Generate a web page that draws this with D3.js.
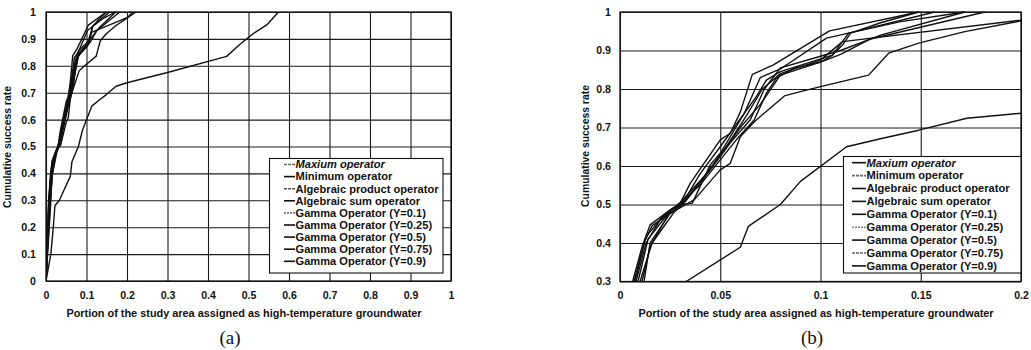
<!DOCTYPE html>
<html><head><meta charset="utf-8">
<script src="https://cdn.jsdelivr.net/npm/d3@7"></script>
<style>body{margin:0;background:#fff}svg{display:block}</style>
</head><body>
<svg id="c" width="1031" height="350"></svg>
<script>
// ---------- DATA ----------
const seriesNames = ["Maxium operator","Minimum operator","Algebraic product operator","Algebraic sum operator",
  "Gamma Operator (Y=0.1)","Gamma Operator (Y=0.25)","Gamma Operator (Y=0.5)","Gamma Operator (Y=0.75)","Gamma Operator (Y=0.9)"];

// each series: [portion of area, cumulative success rate]
const maxiumOp = [[0,0],[0.002,0.1],[0.004,0.2],[0.0063,0.3],[0.011,0.39],[0.015,0.447],[0.025,0.486],[0.03,0.503],[0.035,0.555],[0.05,0.668],[0.055,0.685],[0.06,0.74],[0.066,0.838],[0.0763,0.862],[0.1045,0.951],[0.149,1.0]];
const minimumOp = [[0,0],[0.012,0.1],[0.018,0.2],[0.022,0.28],[0.033,0.3],[0.06,0.389],[0.064,0.443],[0.08,0.5],[0.09,0.56],[0.113,0.65],[0.131,0.672],[0.149,0.693],[0.173,0.724],[0.2,0.737],[0.3,0.775],[0.446,0.835],[0.479,0.88],[0.512,0.92],[0.545,0.952],[0.574,1.0]];
const algProductOp = [[0,0],[0.004,0.1],[0.008,0.2],[0.012,0.3],[0.015,0.4],[0.025,0.477],[0.037,0.512],[0.05,0.59],[0.055,0.607],[0.06,0.676],[0.067,0.715],[0.082,0.782],[0.09,0.793],[0.1,0.806],[0.124,0.836],[0.134,0.893],[0.149,0.919],[0.172,0.949],[0.2,0.977],[0.222,1.0]];
const algSumOp = [[0,0],[0.002,0.1],[0.005,0.2],[0.0075,0.3],[0.013,0.417],[0.022,0.473],[0.03,0.5],[0.036,0.503],[0.045,0.603],[0.05,0.633],[0.062,0.737],[0.068,0.78],[0.073,0.823],[0.08,0.845],[0.106,0.888],[0.111,0.914],[0.115,0.945],[0.13,0.972],[0.149,1.0]];
const gamma01 = [[0,0],[0.003,0.1],[0.007,0.2],[0.011,0.3],[0.015,0.39],[0.025,0.482],[0.03,0.503],[0.04,0.551],[0.05,0.616],[0.058,0.668],[0.067,0.72],[0.073,0.789],[0.078,0.828],[0.087,0.854],[0.1,0.87],[0.106,0.888],[0.114,0.945],[0.14,0.975],[0.172,1.0]];
const gamma025 = [[0,0],[0.002,0.1],[0.0045,0.2],[0.007,0.3],[0.012,0.4],[0.016,0.445],[0.026,0.48],[0.032,0.51],[0.04,0.58],[0.05,0.65],[0.062,0.737],[0.07,0.83],[0.08,0.852],[0.103,0.932],[0.114,0.945],[0.157,1.0]];
const gamma05 = [[0,0],[0.003,0.1],[0.006,0.2],[0.01,0.3],[0.016,0.4],[0.027,0.48],[0.033,0.51],[0.042,0.57],[0.052,0.64],[0.06,0.7],[0.07,0.76],[0.08,0.836],[0.1,0.87],[0.11,0.89],[0.125,0.93],[0.182,1.0]];
const gamma075 = [[0,0],[0.0025,0.1],[0.0055,0.2],[0.009,0.3],[0.014,0.41],[0.023,0.47],[0.031,0.5],[0.043,0.58],[0.053,0.65],[0.063,0.73],[0.071,0.8],[0.08,0.84],[0.1,0.875],[0.111,0.923],[0.2,0.979],[0.215,1.0]];
const gamma09 = [[0,0],[0.0025,0.1],[0.005,0.2],[0.008,0.3],[0.013,0.4],[0.02,0.46],[0.03,0.505],[0.045,0.59],[0.055,0.66],[0.065,0.72],[0.072,0.8],[0.08,0.855],[0.1,0.885],[0.11,0.9],[0.13,0.94],[0.172,1.0]];

const allSeries = [maxiumOp, minimumOp, algProductOp, algSumOp, gamma01, gamma025, gamma05, gamma075, gamma09];

const xTicksA = [0,0.1,0.2,0.3,0.4,0.5,0.6,0.7,0.8,0.9,1];
const yTicksA = [0,0.1,0.2,0.3,0.4,0.5,0.6,0.7,0.8,0.9,1];
const xTicksB = [0,0.05,0.1,0.15,0.2];
const yTicksB = [0.3,0.4,0.5,0.6,0.7,0.8,0.9,1];

const xTitle = "Portion of the study area assigned as high-temperature groundwater";
const yTitle = "Cumulative success rate";

// ---------- DRAW ----------
const svg = d3.select("#c");
const FONT = "Liberation Sans, Arial, sans-serif";

// legend sample styles (scan rendering): [colour, dash]
const legendStyleA = [["#666","3,1"],["#111",null],["#555","3,1"],["#111",null],["#777","2,1"],["#111",null],["#111",null],["#111",null],["#111",null]];
const legendStyleB = [["#111",null],["#666","3,1"],["#111",null],["#111",null],["#111",null],["#888","2,1"],["#111",null],["#666","3,1"],["#111",null]];

function drawChart(cfg, id) {
  const x = d3.scaleLinear().domain(cfg.xDom).range([cfg.left, cfg.right]);
  const y = d3.scaleLinear().domain(cfg.yDom).range([cfg.bottom, cfg.top]);
  const g = svg.append("g");

  // grid + x axis
  const xa = g.append("g").attr("transform", `translate(0,${cfg.bottom})`)
    .call(d3.axisBottom(x).tickValues(cfg.xTicks).tickFormat(d3.format("~g"))
      .tickSize(-(cfg.bottom - cfg.top)).tickPadding(cfg.xPad));
  const ya = g.append("g").attr("transform", `translate(${cfg.left},0)`)
    .call(d3.axisLeft(y).tickValues(cfg.yTicks).tickFormat(d3.format("~g"))
      .tickSize(-(cfg.right - cfg.left)).tickPadding(cfg.yPad));
  [xa, ya].forEach(a => {
    a.select(".domain").remove();
    a.selectAll("line").attr("stroke", "#1a1a1a").attr("stroke-width", 1.1);
    a.selectAll("text").attr("font-family", FONT).attr("font-weight", "bold")
      .attr("font-size", 10.6).attr("fill", "#111");
  });
  g.append("rect").attr("x", cfg.left).attr("y", cfg.top)
    .attr("width", cfg.right - cfg.left).attr("height", cfg.bottom - cfg.top)
    .attr("fill", "none").attr("stroke", "#111").attr("stroke-width", 1.3);

  // clip
  svg.append("clipPath").attr("id", "clip" + id).append("rect")
    .attr("x", cfg.left).attr("y", cfg.top - 1)
    .attr("width", cfg.right - cfg.left).attr("height", cfg.bottom - cfg.top + 1);

  const line = d3.line().x(d => x(d[0])).y(d => y(d[1]));
  g.append("g").attr("clip-path", `url(#clip${id})`)
    .selectAll("path").data(allSeries).join("path")
    .attr("d", line).attr("fill", "none").attr("stroke", "#111")
    .attr("stroke-width", 1.4).attr("stroke-linejoin", "round");

  // legend
  const L = cfg.legend;
  g.append("rect").attr("x", L.x).attr("y", L.y).attr("width", L.w).attr("height", L.h)
    .attr("fill", "#fff").attr("stroke", "#111").attr("stroke-width", 1.1);
  const items = g.append("g").selectAll("g").data(seriesNames).join("g")
    .attr("transform", (d, i) => `translate(0,${L.y0 + i * L.step})`);
  items.append("line").attr("x1", L.lx1).attr("x2", L.lx2).attr("y1", 0).attr("y2", 0)
    .attr("stroke", (d, i) => L.styles[i][0]).attr("stroke-width", 1.6)
    .attr("stroke-dasharray", (d, i) => L.styles[i][1]);
  items.append("text").attr("x", L.tx).attr("y", 0).attr("dy", "0.35em")
    .attr("font-family", FONT).attr("font-weight", "bold").attr("font-size", 11.1)
    .attr("font-style", (d, i) => i === 0 ? "italic" : "normal")
    .attr("fill", "#111").text(d => d);

  // titles
  g.append("text").attr("x", cfg.xtX).attr("y", 317).attr("text-anchor", "middle")
    .attr("font-family", FONT).attr("font-weight", "bold").attr("font-size", 10.9)
    .attr("fill", "#111").text(xTitle);
  g.append("text").attr("transform", `translate(${cfg.ytX},${cfg.ytY}) rotate(-90)`)
    .attr("text-anchor", "middle").attr("font-family", FONT).attr("font-weight", "bold")
    .attr("font-size", 10.4).attr("fill", "#111").text(yTitle);
  g.append("text").attr("x", cfg.capX).attr("y", 344).attr("text-anchor", "middle")
    .attr("font-family", "Liberation Serif, Times New Roman, serif").attr("font-size", 19)
    .attr("fill", "#111").text(cfg.caption);
}

drawChart({
  xDom: [0, 1], yDom: [0, 1], left: 46, right: 451, top: 12, bottom: 281,
  xTicks: xTicksA, yTicks: yTicksA, xPad: 10, yPad: 10,
  legend: {x: 269.5, y: 158.5, w: 173.5, h: 114.5, y0: 164.5, step: 12.1, lx1: 284, lx2: 295, tx: 295.5, styles: legendStyleA},
  xtX: 244, ytX: 11, ytY: 147, capX: 230, caption: "(a)"
}, "A");

drawChart({
  xDom: [0, 0.2], yDom: [0.3, 1], left: 620, right: 1021, top: 12, bottom: 281.5,
  xTicks: xTicksB, yTicks: yTicksB, xPad: 10, yPad: 9,
  legend: {x: 843.5, y: 156.5, w: 177.5, h: 116.5, y0: 162.7, step: 12.9, lx1: 852, lx2: 866, tx: 866.5, styles: legendStyleB},
  xtX: 816, ytX: 589, ytY: 146, capX: 812, caption: "(b)"
}, "B");
</script>
</body></html>
